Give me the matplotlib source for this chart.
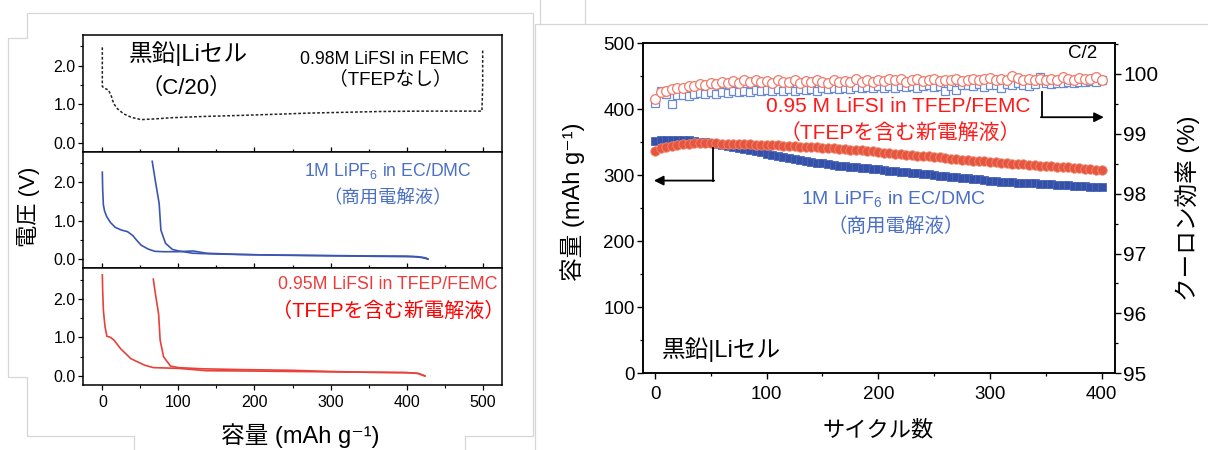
import matplotlib
matplotlib.use("Agg")
import matplotlib.pyplot as plt
from matplotlib.lines import Line2D
from matplotlib.ticker import MultipleLocator, FormatStrFormatter

plt.rcParams['font.family'] = ['Liberation Sans', 'Noto Sans CJK JP', 'DejaVu Sans']
plt.rcParams['mathtext.fontset'] = 'custom'
plt.rcParams['mathtext.rm'] = 'Liberation Sans'
plt.rcParams['mathtext.it'] = 'Liberation Sans:italic'
plt.rcParams['axes.linewidth'] = 1.1

# ---- left: charge/discharge profiles (capacity mAh/g, voltage V) ----
cap_femc = [0, 0, 1, 4, 8, 12, 15, 20, 28, 38, 51, 70, 92, 130, 183, 230, 273,
            320, 364, 420, 470, 499, 500, 500]
v_femc = [2.47, 1.46, 1.44, 1.40, 1.37, 1.20, 1.01, 0.88, 0.75, 0.66, 0.60, 0.62,
          0.65, 0.68, 0.71, 0.74, 0.77, 0.79, 0.81, 0.82, 0.82, 0.82, 1.5, 2.43]

cap_lipf6_1 = [0, 0.5, 1.4, 3, 6, 11, 17, 25, 33, 40, 45, 51, 60, 69, 80, 100, 119,
               137, 180, 228, 270, 318, 360, 409, 420, 428]
v_lipf6_1 = [2.26, 1.8, 1.41, 1.25, 1.10, 0.95, 0.83, 0.76, 0.72, 0.62, 0.50, 0.37,
             0.27, 0.21, 0.20, 0.20, 0.22, 0.16, 0.13, 0.11, 0.10, 0.09, 0.08, 0.07,
             0.05, 0.01]
cap_lipf6_2 = [65.6, 70, 74.7, 77, 83, 92, 100, 119, 150, 200, 250, 300, 350, 400,
               415, 425, 428]
v_lipf6_2 = [2.54, 2.0, 1.45, 0.76, 0.42, 0.26, 0.22, 0.16, 0.14, 0.12, 0.11, 0.10,
             0.09, 0.085, 0.07, 0.04, 0.01]

cap_tfep_1 = [0, 0.5, 1.4, 3.6, 6, 10, 15, 24, 37.6, 56, 67, 100, 137, 200, 250, 300,
              350, 400, 415, 424]
v_tfep_1 = [2.62, 2.2, 1.7, 1.27, 1.03, 1.01, 0.94, 0.71, 0.45, 0.28, 0.22, 0.20,
            0.14, 0.13, 0.12, 0.11, 0.10, 0.09, 0.07, 0.0]
cap_tfep_2 = [67, 70, 74, 76, 80.5, 89.6, 100, 130, 180, 250, 300, 350, 400, 415, 424]
v_tfep_2 = [2.51, 2.1, 1.61, 0.93, 0.5, 0.26, 0.22, 0.19, 0.17, 0.15, 0.12, 0.10,
            0.09, 0.07, 0.01]

# ---- right: cycling (every 5th cycle) ----
cycles = list(range(0, 401, 5))
cap_blue = [352.5, 353, 353.5, 353.5, 353.5, 353.2, 352.8, 352.2, 351.2, 350.2,
            349, 347.6, 346.2, 344.6, 343, 341.3, 339.6, 338, 336.3, 334.7,
            333, 331.3, 329.6, 328, 326.4, 324.7, 323, 321.7, 320.5, 319.3,
            318.1, 316.8, 315.6, 314.8, 313.9, 313.1, 312.3, 311.4, 310.6, 309.8,
            308.9, 308.1, 307.2, 306.4, 305.5, 304.7, 303.8, 303, 302.2, 301.3,
            300.5, 299.6, 298.8, 298, 297.1, 296.3, 295.4, 294.6, 293.7, 292.9,
            292, 291.1, 290.3, 289.8, 289.4, 289, 288.6, 288.2, 287.9, 287.4,
            286.9, 286.4, 285.9, 285.4, 284.9, 284.5, 284, 283.5, 283, 282.5, 282]
cap_red = [337.4, 340.8, 343.4, 344.9, 346.1, 347, 347.7, 348.2, 348.5, 348.5,
           348.4, 348.2, 348, 347.8, 347.5, 347.3, 347, 346.8, 346.5, 346.2,
           346, 345.6, 345.2, 344.7, 344.3, 343.8, 343.4, 343, 342.6, 342.2,
           341.8, 341.4, 341, 340.3, 339.7, 339, 338.3, 337.7, 337, 336.2,
           335.3, 334.5, 333.6, 332.8, 332, 331.3, 330.6, 330, 329.3, 328.6,
           327.9, 327, 326.2, 325.4, 324.6, 323.8, 323, 322.3, 321.6, 321,
           320.3, 319.6, 318.9, 318.3, 317.7, 317.1, 316.5, 315.9, 315.4, 314.8,
           314.2, 313.6, 313, 312.4, 311.9, 311.2, 310.5, 309.8, 309.1, 308.5, 308]
ce_red = [99.58, 99.69, 99.72, 99.74, 99.77, 99.76, 99.80, 99.79, 99.83, 99.81,
          99.85, 99.83, 99.87, 99.84, 99.88, 99.85, 99.89, 99.86, 99.90, 99.86,
          99.88, 99.85, 99.89, 99.86, 99.87, 99.89, 99.85, 99.88, 99.86, 99.90,
          99.87, 99.85, 99.89, 99.87, 99.88, 99.86, 99.91, 99.87, 99.89, 99.86,
          99.90, 99.88, 99.92, 99.89, 99.91, 99.87, 99.90, 99.92, 99.88, 99.90,
          99.91, 99.88, 99.90, 99.89, 99.91, 99.88, 99.90, 99.92, 99.89, 99.91,
          99.93, 99.90, 99.92, 99.89, 99.97, 99.93, 99.90, 99.92, 99.89, 99.91,
          99.90, 99.92, 99.89, 99.95, 99.91, 99.90, 99.93, 99.91, 99.92, 99.94, 99.89]
ce_blue = [99.52, 99.71, 99.66, 99.50, 99.64, 99.65, 99.63, 99.67, 99.68, 99.66,
           99.69, 99.67, 99.70, 99.68, 99.71, 99.69, 99.72, 99.70, 99.73, 99.71,
           99.73, 99.72, 99.74, 99.71, 99.74, 99.72, 99.75, 99.73, 99.75, 99.72,
           99.76, 99.74, 99.76, 99.75, 99.77, 99.74, 99.78, 99.76, 99.78, 99.77,
           99.79, 99.76, 99.79, 99.77, 99.80, 99.78, 99.80, 99.77, 99.79, 99.81,
           99.78, 99.80, 99.72, 99.79, 99.73, 99.81, 99.82, 99.80, 99.83, 99.78,
           99.82, 99.81, 99.76, 99.83, 99.82, 99.84, 99.82, 99.80, 99.83, 99.94,
           99.84, 99.83, 99.85, 99.84, 99.86, 99.85, 99.87, 99.86, 99.88, 99.87, 99.90]

BLUE_LINE = '#3b55b0'
RED_LINE = '#e8413a'
BLUE_TXT = '#4a6fc4'
W, H = 1208, 450


def px_axes(x0, y0, x1, y1):
    """axes from pixel box (top-left origin)"""
    return fig.add_axes([x0 / W, 1 - y1 / H, (x1 - x0) / W, (y1 - y0) / H])


def px_text(x, y, s, **kw):
    fig.text(x / W, 1 - y / H, s, ha='center', va='center', **kw)


def gray_path(pts):
    xs = [p[0] / W for p in pts]
    ys = [1 - p[1] / H for p in pts]
    fig.add_artist(Line2D(xs, ys, transform=fig.transFigure, color='#d6d6d6', lw=0.9))


fig = plt.figure(figsize=(W / 100, H / 100), dpi=100)

# screenshot frame remnants
gray_path([(134, 450), (134, 436), (27, 436), (27, 377), (8, 377), (8, 38), (27, 38),
           (27, 13), (533, 13), (533, 436), (465, 436), (465, 450)])
gray_path([(535, 450), (535, 24), (1208, 24)])
gray_path([(540, 0), (540, 24)])
gray_path([(585, 0), (585, 24)])

# ---- left stacked panels ----
rows = [(35, 151.7), (151.7, 268.3), (268.3, 385)]
axs = [px_axes(83.3, r[0], 501.7, r[1]) for r in rows]
for i, ax in enumerate(axs):
    ax.set_xlim(-25, 525)
    ax.set_ylim(-0.23, 2.79)
    ax.yaxis.set_major_locator(MultipleLocator(1))
    ax.yaxis.set_minor_locator(MultipleLocator(0.5))
    ax.yaxis.set_major_formatter(FormatStrFormatter('%.1f'))
    ax.xaxis.set_major_locator(MultipleLocator(100))
    ax.xaxis.set_minor_locator(MultipleLocator(50))
    ax.tick_params(axis='y', which='major', direction='out', length=3.5, width=0.9,
                   labelsize=11.5, pad=2)
    ax.tick_params(axis='y', which='minor', direction='out', length=2, width=0.8)
    if i < 2:
        ax.tick_params(axis='x', which='both', direction='in', labelbottom=False,
                       width=0.9)
        ax.tick_params(axis='x', which='major', length=3.5)
        ax.tick_params(axis='x', which='minor', length=2.5)
    else:
        ax.tick_params(axis='x', which='major', direction='out', length=3.5,
                       width=0.9, labelsize=11.5, pad=4)
        ax.tick_params(axis='x', which='minor', direction='out', length=2, width=0.8)

axs[0].plot(cap_femc, v_femc, color='#222222', lw=1.1, linestyle=(0, (1.8, 1.3)))
axs[1].plot(cap_lipf6_1, v_lipf6_1, color=BLUE_LINE, lw=1.2)
axs[1].plot(cap_lipf6_2, v_lipf6_2, color=BLUE_LINE, lw=1.2)
axs[2].plot(cap_tfep_1, v_tfep_1, color=RED_LINE, lw=1.2)
axs[2].plot(cap_tfep_2, v_tfep_2, color=RED_LINE, lw=1.2)

axs[0].text(0.250, 0.837, '黒鉛|Liセル', transform=axs[0].transAxes, ha='center',
            va='center', fontsize=17)
axs[0].text(0.245, 0.546, '（C/20）', transform=axs[0].transAxes, ha='center',
            va='center', fontsize=16)
axs[0].text(0.719, 0.786, '0.98M LiFSI in FEMC', transform=axs[0].transAxes,
            ha='center', va='center', fontsize=12.7)
axs[0].text(0.733, 0.623, '（TFEPなし）', transform=axs[0].transAxes, ha='center',
            va='center', fontsize=13.5)
axs[1].text(0.728, 0.834, r'1M LiPF$_6$ in EC/DMC', transform=axs[1].transAxes,
            ha='center', va='center', fontsize=12.7, color=BLUE_TXT)
axs[1].text(0.728, 0.603, '（商用電解液）', transform=axs[1].transAxes, ha='center',
            va='center', fontsize=13.2, color=BLUE_TXT)
axs[2].text(0.728, 0.865, '0.95M LiFSI in TFEP/FEMC', transform=axs[2].transAxes,
            ha='center', va='center', fontsize=12.8, color='#f03a3a')
axs[2].text(0.728, 0.634, '（TFEPを含む新電解液）', transform=axs[2].transAxes,
            ha='center', va='center', fontsize=14.5, color='#ff0000')

px_text(300, 436, '容量 (mAh g⁻¹)', fontsize=17)
px_text(29, 207, '電圧 (V)', fontsize=16, rotation=90)

# ---- right cycling panel ----
ax = px_axes(643.3, 43.3, 1115, 373.3)
ax2 = ax.twinx()
ax.set_xlim(-10.5, 412)
ax.set_ylim(0, 500)
ax2.set_ylim(95, 100.51)

ax.plot(cycles, cap_blue, linestyle='none', marker='s', ms=6.3, mfc='#3450a8',
        mec='#4a66b8', mew=0.6)
ax.plot(cycles, cap_red, linestyle='none', marker='o', ms=6.8, mfc='#e6553f',
        mec='#f08a70', mew=0.6)
ax2.plot(cycles, ce_blue, linestyle='none', marker='s', ms=5.8, mfc='white',
         mec='#6a8ad6', mew=0.9)
ax2.plot(cycles, ce_red, linestyle='none', marker='o', ms=7, mfc='white',
         mec='#f07a6a', mew=0.9)

ax.xaxis.set_major_locator(MultipleLocator(100))
ax.xaxis.set_minor_locator(MultipleLocator(50))
ax.yaxis.set_major_locator(MultipleLocator(100))
ax.yaxis.set_minor_locator(MultipleLocator(50))
ax2.yaxis.set_major_locator(MultipleLocator(1))
ax2.yaxis.set_minor_locator(MultipleLocator(0.5))
ax.tick_params(which='major', direction='out', length=4, width=1, labelsize=13.5, pad=2)
ax.tick_params(which='minor', direction='out', length=2.5, width=0.9)
ax.tick_params(axis='x', which='major', pad=5)
ax2.tick_params(which='major', direction='out', length=4, width=1, labelsize=15, pad=2)
ax2.tick_params(which='minor', direction='out', length=2.5, width=0.9)

# direction arrows
ax.plot([346.3, 346.3], [426, 388], color='k', lw=1.3)
ax.annotate('', xy=(402, 388), xytext=(345.6, 388),
            arrowprops=dict(arrowstyle='-|>', color='k', lw=1.3, mutation_scale=14,
                            shrinkA=0, shrinkB=0))
ax.plot([52.2, 52.2], [341, 292], color='k', lw=1.3)
ax.annotate('', xy=(-1, 292), xytext=(52.9, 292),
            arrowprops=dict(arrowstyle='-|>', color='k', lw=1.3, mutation_scale=14,
                            shrinkA=0, shrinkB=0))

ax.text(0.932, 0.968, 'C/2', transform=ax.transAxes, ha='center', va='center',
        fontsize=13.5)
ax.text(0.540, 0.807, '0.95 M LiFSI in TFEP/FEMC', transform=ax.transAxes,
        ha='center', va='center', fontsize=15, color='#ff1a1a')
ax.text(0.544, 0.728, '（TFEPを含む新電解液）', transform=ax.transAxes,
        ha='center', va='center', fontsize=15, color='#ff1a1a')
ax.text(0.531, 0.528, r'1M LiPF$_6$ in EC/DMC', transform=ax.transAxes,
        ha='center', va='center', fontsize=14, color=BLUE_TXT)
ax.text(0.536, 0.446, '（商用電解液）', transform=ax.transAxes,
        ha='center', va='center', fontsize=14, color=BLUE_TXT)
ax.text(0.166, 0.071, '黒鉛|Liセル', transform=ax.transAxes,
        ha='center', va='center', fontsize=17)

px_text(878, 431, 'サイクル数', fontsize=16)
px_text(573, 202, '容量 (mAh g⁻¹)', fontsize=17, rotation=90)
px_text(1188, 208, 'クーロン効率 (%)', fontsize=17, rotation=90)

fig.savefig('out.png', dpi=100)
